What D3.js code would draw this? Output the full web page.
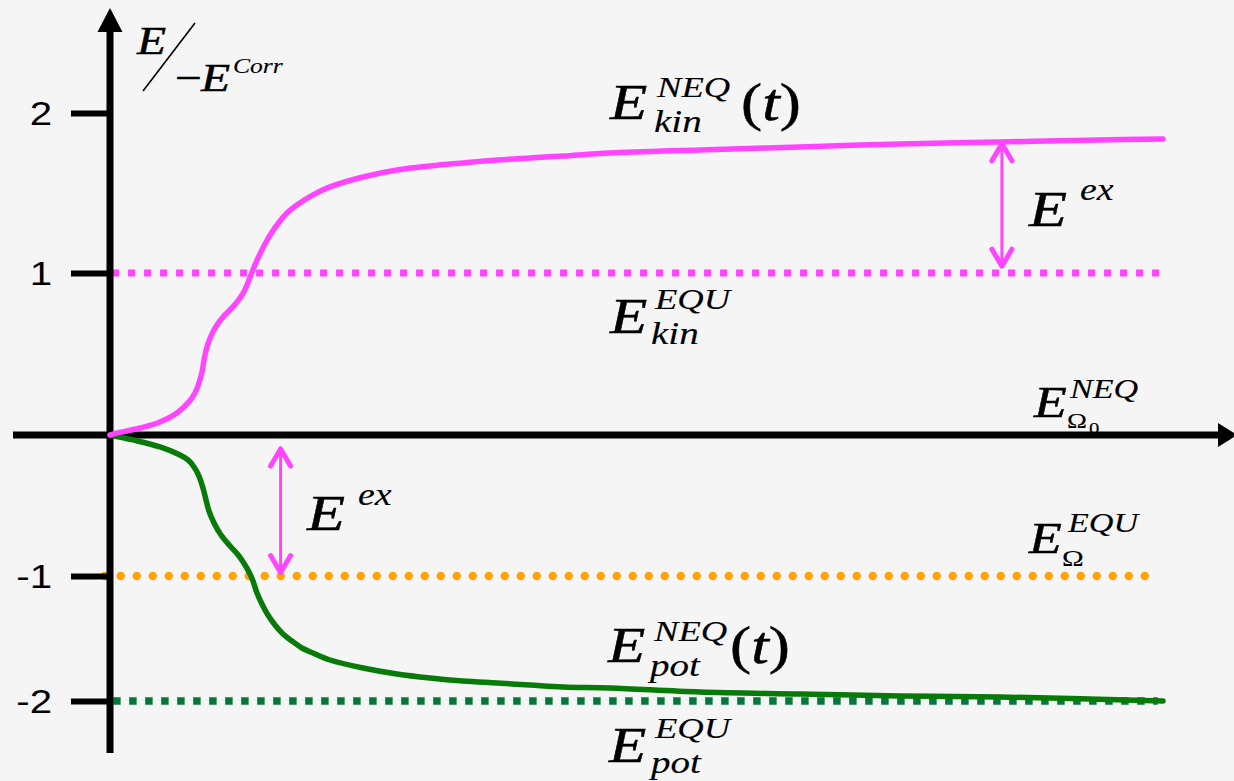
<!DOCTYPE html>
<html>
<head>
<meta charset="utf-8">
<script src="https://cdn.jsdelivr.net/npm/d3@7"></script>
<style>
  html, body { margin: 0; padding: 0; background: #f5f5f5; }
  svg { display: block; }
</style>
</head>
<body>
<svg id="chart" width="1234" height="781"></svg>
<script>
// Time axis (arbitrary units) and energies in units of -E^Corr
const kinTime = [0, 0.028, 0.285, 0.475, 0.636, 0.741, 0.807, 0.845, 0.874, 0.893, 0.921, 0.959, 1.016, 1.083, 1.149, 1.206, 1.254, 1.301, 1.349, 1.406, 1.472, 1.539, 1.615, 1.690, 1.776, 1.928, 2.089, 2.403, 2.726, 3.039, 3.352, 3.675, 3.989, 4.302, 4.748, 5.603, 6.553, 7.502, 8.452, 9.402, 10];
const kinNeq  = [0, 0.006, 0.043, 0.080, 0.136, 0.198, 0.259, 0.321, 0.389, 0.463, 0.543, 0.611, 0.679, 0.735, 0.778, 0.821, 0.864, 0.926, 1.006, 1.094, 1.181, 1.256, 1.325, 1.381, 1.425, 1.488, 1.538, 1.60, 1.644, 1.669, 1.688, 1.706, 1.719, 1.731, 1.75, 1.769, 1.788, 1.806, 1.819, 1.831, 1.838];

const potTime = [0, 0.218, 0.475, 0.665, 0.741, 0.798, 0.845, 0.883, 0.912, 0.940, 0.988, 1.054, 1.140, 1.225, 1.282, 1.320, 1.358, 1.396, 1.443, 1.500, 1.567, 1.643, 1.728, 1.823, 1.928, 2.089, 2.403, 2.726, 3.039, 3.352, 3.675, 3.989, 4.302, 4.748, 5.603, 6.553, 7.502, 8.452, 10];
const potNeq  = [0, -0.035, -0.085, -0.142, -0.177, -0.227, -0.291, -0.376, -0.461, -0.539, -0.624, -0.709, -0.787, -0.858, -0.922, -0.972, -1.04, -1.136, -1.224, -1.312, -1.392, -1.464, -1.52, -1.576, -1.616, -1.672, -1.736, -1.784, -1.816, -1.84, -1.856, -1.872, -1.888, -1.896, -1.928, -1.944, -1.96, -1.968, -2.0];

// Equilibrium levels
const kinEqu = 1;
const omegaEqu = -1;
const potEqu = -2;

// Excess-energy arrows: time, upper end, lower end
const exArrowTime = [1.62, 8.47];
const exArrowTop  = [-0.085, 1.82];
const exArrowBot  = [-0.99, 1.03];

// Y axis ticks
const tickValues = [2, 1, -1, -2];
const tickLabels = ["2", "1", "-1", "-2"];

const PINK = "#ff45ff";
const ORANGE = "#ffa500";
const GREEN_LINE = "#077a07";
const GREEN_DOT = "#037a3c";
const SERIF = "'Liberation Serif', 'Times New Roman', serif";
const SANS = "'Liberation Sans', Arial, sans-serif";
const SX = 1.22; // horizontal stretch of lettering

const svg = d3.select("#chart");
svg.append("rect").attr("width", 1234).attr("height", 781).attr("fill", "#f5f5f5");

const x = d3.scaleLinear().domain([0, 10]).range([110, 1163]);
const y = d3.scaleLinear().domain([-2, -1, 0, 1, 2]).range([701, 576, 435, 273, 113]);

// Equilibrium reference lines
svg.append("line")
  .attr("x1", x(0.02)).attr("x2", x(9.97))
  .attr("y1", y(kinEqu)).attr("y2", y(kinEqu))
  .attr("stroke", PINK).attr("stroke-width", 7).attr("stroke-dasharray", "7,9");
svg.append("line")
  .attr("x1", x(-0.05)).attr("x2", x(9.85))
  .attr("y1", y(omegaEqu)).attr("y2", y(omegaEqu))
  .attr("stroke", ORANGE).attr("stroke-width", 8.5)
  .attr("stroke-linecap", "round").attr("stroke-dasharray", "0,16");
svg.append("line")
  .attr("x1", x(0.03)).attr("x2", x(9.95))
  .attr("y1", y(potEqu)).attr("y2", y(potEqu))
  .attr("stroke", GREEN_DOT).attr("stroke-width", 7.5).attr("stroke-dasharray", "7.5,8.5");

// Axes
const yAxis = d3.axisLeft(y)
  .tickValues(tickValues)
  .tickFormat((d, i) => tickLabels[i])
  .tickSize(39)
  .tickPadding(19);
const gy = svg.append("g").attr("transform", `translate(${x(0)},0)`).call(yAxis);
gy.select(".domain").remove();
gy.selectAll(".tick line").attr("stroke", "#000").attr("stroke-width", 6);
gy.selectAll(".tick text")
  .attr("fill", "#000")
  .attr("font-family", SANS)
  .attr("font-size", 33)
  .attr("x", -58 / SX)
  .attr("dy", "0.36em")
  .attr("transform", `scale(${SX},1)`);

// vertical axis shaft and arrow head
svg.append("line")
  .attr("x1", x(0)).attr("x2", x(0)).attr("y1", 753).attr("y2", 28)
  .attr("stroke", "#000").attr("stroke-width", 7);
svg.append("path")
  .attr("d", `M${x(0)},8 L${x(0) + 12.5},32 L${x(0) - 12.5},32 Z`)
  .attr("fill", "#000");

// horizontal axis shaft and arrow head
svg.append("line")
  .attr("x1", 13).attr("x2", 1222).attr("y1", y(0)).attr("y2", y(0))
  .attr("stroke", "#000").attr("stroke-width", 7);
svg.append("path")
  .attr("d", `M1237,${y(0)} L1218,${y(0) - 12} L1218,${y(0) + 12} Z`)
  .attr("fill", "#000");

// Non-equilibrium curves
const line = d3.line()
  .x(d => x(d[0]))
  .y(d => y(d[1]))
  .curve(d3.curveCatmullRom.alpha(0.5));

svg.append("path")
  .datum(potTime.map((t, i) => [t, potNeq[i]]))
  .attr("d", line)
  .attr("fill", "none").attr("stroke", GREEN_LINE).attr("stroke-width", 5.5)
  .attr("stroke-linecap", "round").attr("stroke-linejoin", "round");
svg.append("path")
  .datum(kinTime.map((t, i) => [t, kinNeq[i]]))
  .attr("d", line)
  .attr("fill", "none").attr("stroke", PINK).attr("stroke-width", 5.5)
  .attr("stroke-linecap", "round").attr("stroke-linejoin", "round");

// Double-headed excess-energy arrows
exArrowTime.forEach((t, i) => {
  const ax = x(t), top = y(exArrowTop[i]), bot = y(exArrowBot[i]);
  const g = svg.append("g")
    .attr("stroke", PINK).attr("fill", "none")
    .attr("stroke-linecap", "round").attr("stroke-linejoin", "round");
  g.append("line").attr("x1", ax).attr("x2", ax).attr("y1", top + 2).attr("y2", bot - 2)
    .attr("stroke-width", 3);
  g.append("polyline")
    .attr("points", `${ax - 10},${top + 19} ${ax},${top + 2} ${ax + 10},${top + 19}`)
    .attr("stroke-width", 5);
  g.append("polyline")
    .attr("points", `${ax - 10},${bot - 19} ${ax},${bot - 2} ${ax + 10},${bot - 19}`)
    .attr("stroke-width", 5);
});

// Math lettering: one <text> per expression. Each piece is
// [string, font size, italic, left x, baseline y]; a null x/y lets the
// piece run on directly after the previous one.
function formula(pieces) {
  const x0 = pieces[0][3], y0 = pieces[0][4];
  const t = svg.append("text")
    .attr("transform", `translate(${x0},${y0}) scale(${SX},1)`)
    .attr("font-family", SERIF)
    .attr("fill", "#000")
    .attr("stroke", "#000");
  pieces.forEach(([s, size, italic, px, py]) => {
    const sp = t.append("tspan")
      .attr("font-size", size)
      .attr("font-style", italic ? "italic" : "normal")
      .attr("stroke-width", size > 35 ? 0.5 : 0.12)
      .text(s);
    if (px != null) sp.attr("x", (px - x0) / SX);
    if (py != null) sp.attr("y", py - y0);
  });
  return t;
}

// y-axis quantity: E / (-E^Corr)
formula([["E", 39, true, 137, 54]]);
svg.append("line").attr("x1", 143).attr("y1", 91).attr("x2", 195).attr("y2", 23)
  .attr("stroke", "#000").attr("stroke-width", 1.6);
formula([["\u2212", 39, false, 175, 91], ["E", 39, true, 201, 91], ["Corr", 21, true, 233, 73]]);

// E_kin^NEQ(t)
formula([["E", 50, true, 610, 119], ["NEQ", 30, true, 657, 97], ["kin", 32, true, 654, 132],
         ["(", 52, false, 741, 120], ["t", 52, true, null, null], [")", 52, false, null, null]]);

// E_kin^EQU
formula([["E", 50, true, 610, 333], ["EQU", 30, true, 655, 309], ["kin", 32, true, 651, 344]]);

// E^ex (upper)
formula([["E", 51, true, 1029, 226], ["ex", 31, true, 1080, 200]]);

// E_Omega0^NEQ
formula([["E", 44, true, 1034, 417], ["NEQ", 28, true, 1070, 398],
         ["\u03A9", 22, false, 1067, 428], ["0", 17, false, 1089, 434]]);

// E^ex (lower)
formula([["E", 51, true, 307, 530], ["ex", 31, true, 358, 505]]);

// E_Omega^EQU
formula([["E", 44, true, 1029, 553], ["EQU", 28, true, 1068, 532], ["\u03A9", 24, false, 1062, 566]]);

// E_pot^NEQ(t)
formula([["E", 50, true, 608, 662], ["NEQ", 30, true, 654, 641], ["pot", 32, true, 650, 676],
         ["(", 52, false, 730, 663], ["t", 52, true, null, null], [")", 52, false, null, null]]);

// E_pot^EQU
formula([["E", 50, true, 609, 762], ["EQU", 30, true, 655, 738], ["pot", 32, true, 651, 773]]);
</script>
</body>
</html>
